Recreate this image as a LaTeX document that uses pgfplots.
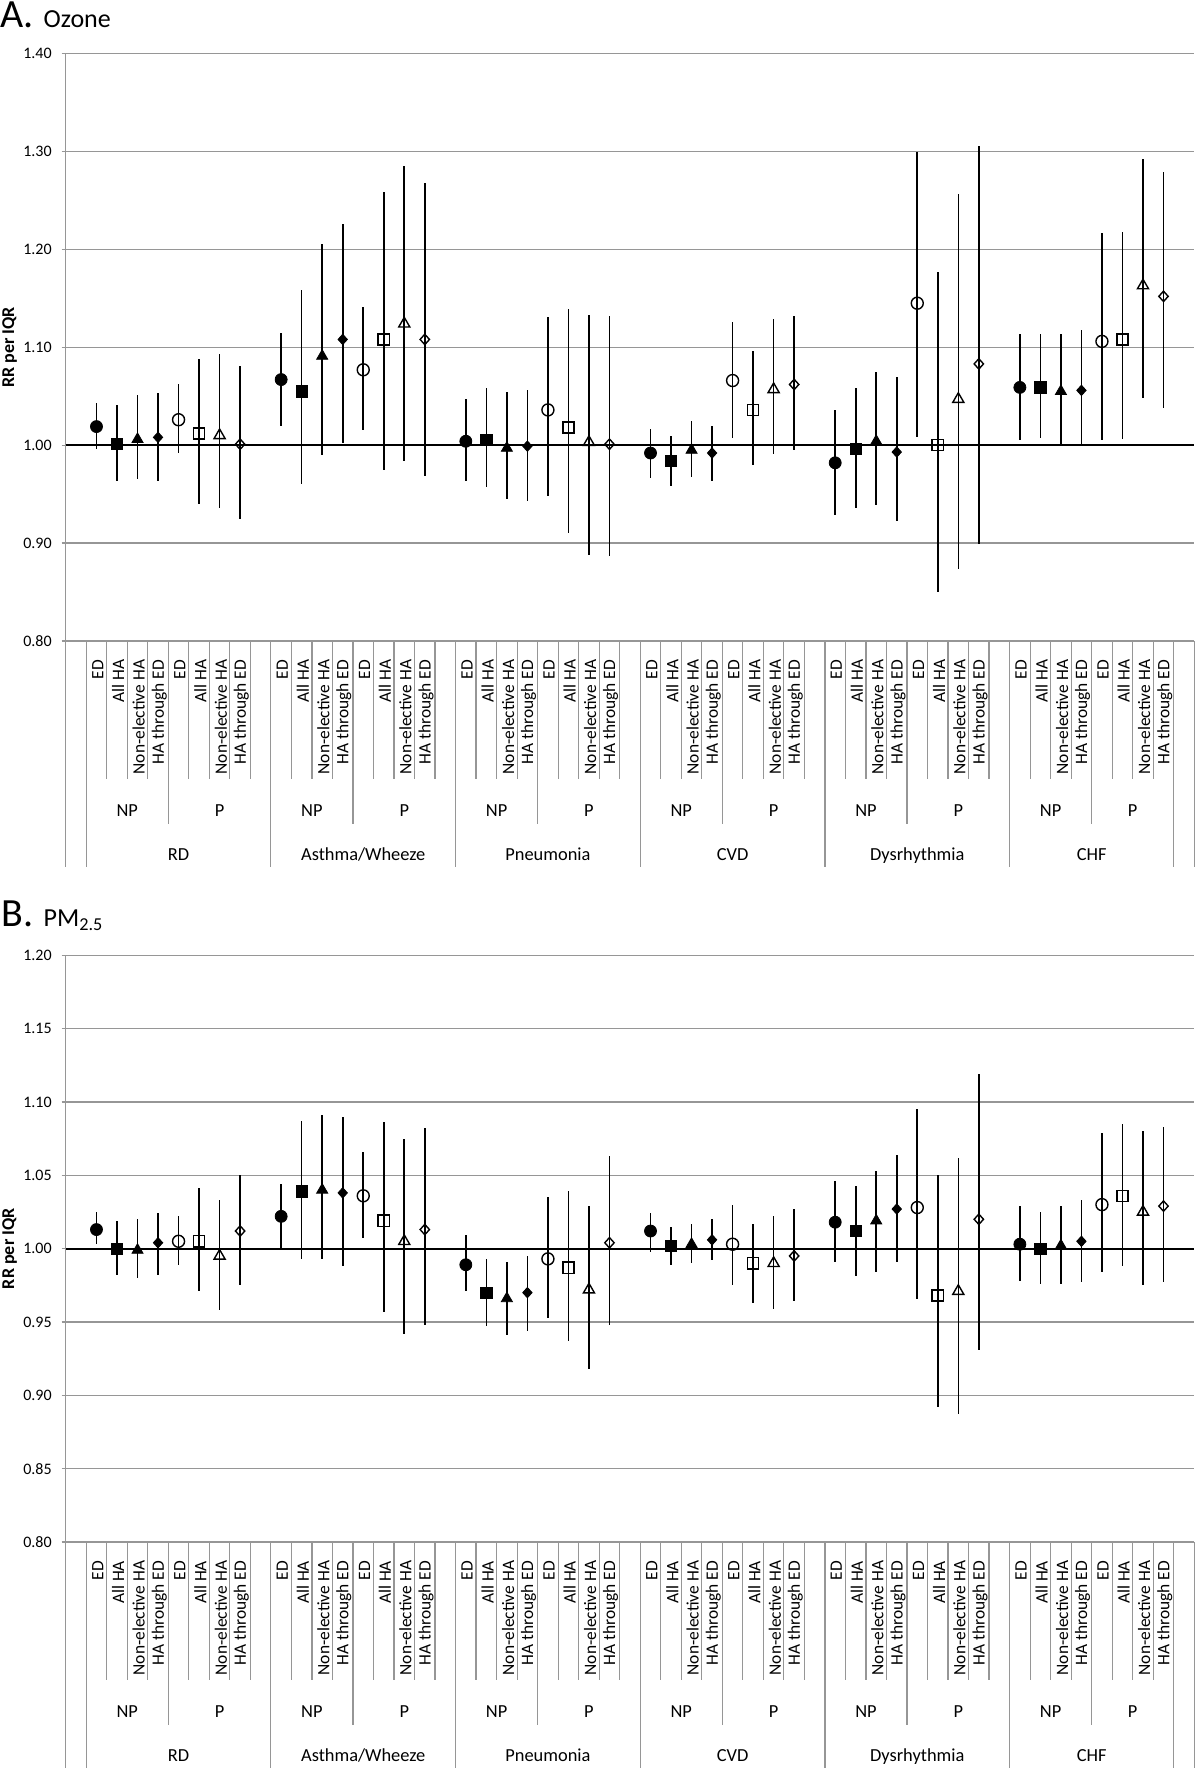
\documentclass[border=0pt]{standalone}
\usepackage{pgfplots}
\pgfplotsset{compat=1.18}
\usepackage{fontspec}
\setmainfont{Carlito}
\definecolor{gridgray}{RGB}{150,150,150}
\newcommand{\catfont}{\fontsize{8.7}{9}\selectfont}
\newcommand{\grpfont}{\fontsize{9.2}{10}\selectfont}
\newcommand{\catlab}[2]{\node[rotate=90,anchor=east,inner sep=0pt,font=\catfont] at ([yshift=-9.25pt,xshift=0.6pt]axis cs:#1,0.8) {#2};}
\newcommand{\fourlab}[1]{\catlab{#1}{ED}\catlab{#1+1}{All HA}\catlab{#1+2}{Non-elective HA}\catlab{#1+3}{HA through ED}}
\newcommand{\grp}[4]{\fourlab{#1}\fourlab{#1+4}%
  \node[font=\grpfont,anchor=base,inner sep=0pt] at ([yshift=-87.5pt]axis cs:#1+1.5,0.8) {NP};%
  \node[font=\grpfont,anchor=base,inner sep=0pt] at ([yshift=-87.5pt]axis cs:#1+#3,0.8) {P};%
  \node[font=\grpfont,anchor=base,inner sep=0pt] at ([yshift=-109.5pt]axis cs:#1+#4,0.8) {#2};}
\newcommand{\sepl}[2]{\draw[gridgray,line width=0.6pt] (axis cs:#1,0.8) -- ([yshift=-#2]axis cs:#1,0.8);}
\newcommand{\decor}{%
  \pgfplotsinvokeforeach{1.5,2.5,3.5,5.5,6.5,7.5,8.5,10.5,11.5,12.5,14.5,15.5,16.5,17.5,19.5,20.5,21.5,23.5,24.5,25.5,26.5,28.5,29.5,30.5,32.5,33.5,34.5,35.5,37.5,38.5,39.5,41.5,42.5,43.5,44.5,46.5,47.5,48.5,50.5,51.5,52.5}{\sepl{##1}{69pt}}%
  \pgfplotsinvokeforeach{4.5,13.5,22.5,31.5,40.5,49.5}{\sepl{##1}{91.5pt}}%
  \pgfplotsinvokeforeach{-0.5,0.5,9.5,18.5,27.5,36.5,45.5,53.5,54.5}{\sepl{##1}{113pt}}%
  \grp{1}{RD}{6}{4}\grp{10}{Asthma/Wheeze}{6}{4}\grp{19}{Pneumonia}{6}{4}%
  \grp{28}{CVD}{6}{4}\grp{37}{Dysrhythmia}{6}{4}\grp{46}{CHF}{5.5}{3.5}}
\pgfplotsset{
  panel/.style={
    scale only axis, width=564.3pt,
    xmin=-0.5, xmax=54.5, ymin=0.8,
    axis x line=bottom, axis y line=left,
    axis line style={gridgray,line width=0.6pt,-},
    xtick=\empty,
    ymajorgrids, grid style={gridgray,line width=0.6pt},
    ytick style={gridgray,line width=0.6pt},
    tick align=outside, major tick length=2pt,
    yticklabel style={font=\fontsize{8}{9}\selectfont, xshift=-1.5pt},
    /pgf/number format/fixed, /pgf/number format/fixed zerofill, /pgf/number format/precision=2, /pgf/number format/assume math mode=true,
    ylabel={\bfseries RR per IQR},
    ylabel style={font=\fontsize{9}{10}\selectfont, at={(axis description cs:-0.0496,0.5)}, anchor=center},
    clip=false,
  },
  eb/.style={black, only marks, error bars/y dir=both, error bars/y explicit, error bars/error mark=none, error bars/error bar style={black,line width=0.8pt}},
  m1/.style={eb, mark=*, mark size=3pt, mark options={fill=black,draw=black}},
  m2/.style={eb, mark=square*, mark size=2.8pt, mark options={fill=black,draw=black}},
  m3/.style={eb, mark=triangle*, mark size=3.2pt, mark options={fill=black,draw=black}},
  m4/.style={eb, mark=diamond*, mark size=2.6pt, mark options={fill=black,draw=black,xscale=1.2}},
  m5/.style={eb, mark=o, mark size=3pt, mark options={draw=black,line width=0.7pt}},
  m6/.style={eb, mark=square, mark size=2.8pt, mark options={draw=black,line width=0.7pt}},
  m7/.style={eb, mark=triangle, mark size=3.2pt, mark options={draw=black,line width=0.7pt}},
  m8/.style={eb, mark=diamond, mark size=2.6pt, mark options={draw=black,line width=0.7pt,xscale=1.2}},
  /pgfplots/table/tabopts/.style={x=x, y=y, y error plus expr={\thisrow{hi}-\thisrow{y}}, y error minus expr={\thisrow{y}-\thisrow{lo}}},
}
\begin{document}
\begin{tikzpicture}
\useasboundingbox (0,0) rectangle (600pt,-884pt);
\node[anchor=base west,inner sep=0pt,font=\fontsize{20}{20}\selectfont] at (0pt,-13.8pt) {A.};
\node[anchor=base west,inner sep=0pt,font=\fontsize{13}{13}\selectfont] at (21.65pt,-13.8pt) {Ozone};
\node[anchor=base west,inner sep=0pt,font=\fontsize{20}{20}\selectfont] at (0.5pt,-463.35pt) {B.};
\node[anchor=base west,inner sep=0pt,font=\fontsize{13}{13}\selectfont] at (21.65pt,-463.35pt) {PM\textsubscript{2.5}};

\begin{axis}[panel, at={(32.85pt,-320.5pt)}, anchor=south west, height=293.75pt,
  ymax=1.4, ytick={0.8,0.9,1.0,1.1,1.2,1.3,1.4}]
\addplot[black,line width=1pt,no marks] coordinates {(-0.5,1) (54.5,1)};
\addplot[m1] table[tabopts] {
x y lo hi
1 1.019 0.996 1.043
10 1.067 1.020 1.115
19 1.004 0.963 1.047
28 0.992 0.966 1.017
37 0.982 0.929 1.036
46 1.059 1.005 1.114
};
\addplot[m2] table[tabopts] {
x y lo hi
2 1.001 0.963 1.041
11 1.055 0.960 1.158
20 1.005 0.957 1.058
29 0.984 0.958 1.009
38 0.996 0.936 1.058
47 1.059 1.007 1.114
};
\addplot[m3] table[tabopts] {
x y lo hi
3 1.006 0.965 1.051
12 1.091 0.990 1.205
21 0.997 0.945 1.054
30 0.995 0.967 1.025
39 1.004 0.939 1.075
48 1.055 1.000 1.114
};
\addplot[m4] table[tabopts] {
x y lo hi
4 1.008 0.963 1.053
13 1.108 1.002 1.226
22 0.999 0.943 1.056
31 0.992 0.963 1.020
40 0.993 0.923 1.070
49 1.056 0.999 1.118
};
\addplot[m5] table[tabopts] {
x y lo hi
5 1.026 0.992 1.062
14 1.077 1.015 1.141
23 1.036 0.948 1.131
32 1.066 1.007 1.126
41 1.145 1.008 1.299
50 1.106 1.005 1.217
};
\addplot[m6] table[tabopts] {
x y lo hi
6 1.012 0.940 1.088
15 1.108 0.975 1.259
24 1.018 0.910 1.139
33 1.036 0.980 1.096
42 1.000 0.850 1.177
51 1.108 1.006 1.218
};
\addplot[m7] table[tabopts] {
x y lo hi
7 1.010 0.936 1.093
16 1.124 0.984 1.285
25 1.003 0.888 1.133
34 1.057 0.991 1.129
43 1.047 0.874 1.257
52 1.163 1.048 1.292
};
\addplot[m8] table[tabopts] {
x y lo hi
8 1.001 0.925 1.081
17 1.108 0.969 1.268
26 1.001 0.887 1.132
35 1.062 0.995 1.132
44 1.083 0.899 1.306
53 1.152 1.038 1.279
};
\decor
\end{axis}

\begin{axis}[panel, at={(32.85pt,-771pt)}, anchor=south west, height=293.4pt,
  ymax=1.2, ytick={0.8,0.85,0.9,0.95,1.0,1.05,1.1,1.15,1.2}]
\addplot[black,line width=1pt,no marks] coordinates {(-0.5,1) (54.5,1)};
\addplot[m1] table[tabopts] {
x y lo hi
1 1.013 1.003 1.025
10 1.022 1.000 1.044
19 0.989 0.971 1.009
28 1.012 0.998 1.024
37 1.018 0.991 1.046
46 1.003 0.978 1.029
};
\addplot[m2] table[tabopts] {
x y lo hi
2 1.000 0.982 1.019
11 1.039 0.993 1.087
20 0.970 0.947 0.993
29 1.002 0.989 1.015
38 1.012 0.981 1.043
47 1.000 0.976 1.025
};
\addplot[m3] table[tabopts] {
x y lo hi
3 0.999 0.980 1.020
12 1.040 0.993 1.091
21 0.966 0.941 0.991
30 1.003 0.990 1.017
39 1.019 0.984 1.053
48 1.002 0.976 1.029
};
\addplot[m4] table[tabopts] {
x y lo hi
4 1.004 0.982 1.024
13 1.038 0.988 1.090
22 0.970 0.944 0.995
31 1.006 0.992 1.020
40 1.027 0.991 1.064
49 1.005 0.977 1.033
};
\addplot[m5] table[tabopts] {
x y lo hi
5 1.005 0.989 1.022
14 1.036 1.007 1.066
23 0.993 0.953 1.035
32 1.003 0.975 1.030
41 1.028 0.966 1.095
50 1.030 0.984 1.079
};
\addplot[m6] table[tabopts] {
x y lo hi
6 1.005 0.971 1.041
15 1.019 0.957 1.086
24 0.987 0.937 1.039
33 0.990 0.963 1.017
42 0.968 0.892 1.050
51 1.036 0.988 1.085
};
\addplot[m7] table[tabopts] {
x y lo hi
7 0.995 0.958 1.033
16 1.005 0.942 1.075
25 0.972 0.918 1.029
34 0.990 0.959 1.022
43 0.971 0.887 1.062
52 1.025 0.975 1.080
};
\addplot[m8] table[tabopts] {
x y lo hi
8 1.012 0.975 1.050
17 1.013 0.948 1.082
26 1.004 0.948 1.063
35 0.995 0.964 1.027
44 1.020 0.931 1.119
53 1.029 0.977 1.083
};
\decor
\end{axis}
\end{tikzpicture}
\end{document}
